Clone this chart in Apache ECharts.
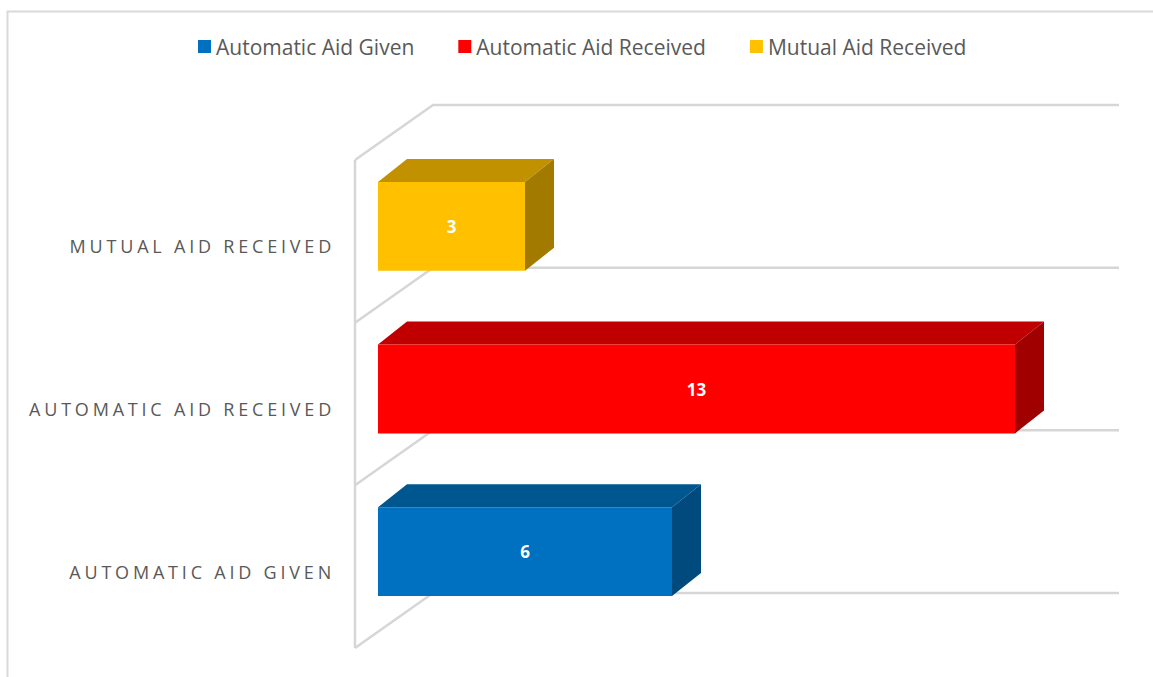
<!DOCTYPE html>
<html>
<head>
<meta charset="utf-8">
<script src="https://cdn.jsdelivr.net/npm/echarts@6/dist/echarts.min.js"></script>
<style>
  html, body { margin: 0; padding: 0; background: #ffffff; }
  #chart { width: 1153px; height: 677px; }
  #chart text[text-anchor="end"] { letter-spacing: 3.8px; }
</style>
</head>
<body>
<div id="chart"></div>
<script>
// ---- data ----
const categories = ['Automatic Aid Given', 'Automatic Aid Received', 'Mutual Aid Received'];
const values = [6, 13, 3];
const valueMin = 0;
const valueMax = 14;

// ---- styles ----
const frontColors = ['#0070C0', '#FF0000', '#FFC000'];
const topColors = ['#00568F', '#C00000', '#C29100'];
const sideColors = ['#004A7D', '#A00000', '#A27A00'];
const wallColor = '#d6d6d6';

// depth offsets in pixels (3D look)
const WALL_BACK = [78, -55];
const BAR_FRONT = [23, -15];
const BAR_DEPTH = [29, -23];
const BAR_RATIO = 0.546;

const chart = echarts.init(document.getElementById('chart'), null, { renderer: 'svg' });

function wallsRender(params, api) {
  const n = categories.length;
  const band = api.size([0, 1])[1];
  const children = [];
  const x0 = api.coord([valueMin, 0])[0];
  const xEnd = api.coord([valueMax, 0])[0];
  const bounds = [];
  for (let i = 0; i < n; i++) {
    const cy = api.coord([valueMin, i])[1];
    bounds.push(cy + band / 2);
  }
  bounds.push(api.coord([valueMin, n - 1])[1] - band / 2);
  const ls = { stroke: wallColor, lineWidth: 2.5, fill: null };
  const ys = bounds.slice().sort((a, b) => a - b);
  children.push({ type: 'line', shape: { x1: x0, y1: ys[0], x2: x0, y2: ys[ys.length - 1] }, style: ls });
  bounds.forEach(function (by) {
    const bx = x0 + WALL_BACK[0], byb = by + WALL_BACK[1];
    children.push({ type: 'polyline', shape: { points: [[x0, by], [bx, byb], [xEnd + WALL_BACK[0], byb]] }, style: ls });
  });
  return { type: 'group', children: children, silent: true };
}

function barRender(idx) {
  return function (params, api) {
    const v = api.value(0), c = api.value(1);
    const p0 = api.coord([valueMin, c]);
    const p1 = api.coord([v, c]);
    const band = api.size([0, 1])[1];
    const h = band * BAR_RATIO;
    const fx0 = p0[0] + BAR_FRONT[0], fx1 = p1[0] + BAR_FRONT[0];
    const cy = p0[1] + BAR_FRONT[1];
    const top = cy - h / 2, bot = cy + h / 2;
    const dx = BAR_DEPTH[0], dy = BAR_DEPTH[1];
    return {
      type: 'group',
      children: [
        { type: 'polygon', shape: { points: [[fx0, top], [fx1, top], [fx1 + dx, top + dy], [fx0 + dx, top + dy]] },
          style: { fill: topColors[idx] } },
        { type: 'polygon', shape: { points: [[fx1, top], [fx1 + dx, top + dy], [fx1 + dx, bot + dy], [fx1, bot]] },
          style: { fill: sideColors[idx] } },
        { type: 'rect', shape: { x: fx0, y: top, width: fx1 - fx0, height: bot - top },
          style: { fill: frontColors[idx] } },
        { type: 'text', x: (fx0 + fx1) / 2, y: cy,
          style: { text: String(v), fill: '#ffffff', fontFamily: 'Open Sans', fontWeight: 'bold', fontSize: 17,
                   align: 'center', verticalAlign: 'middle' } }
      ]
    };
  };
}

const series = [{
  type: 'custom',
  name: 'walls',
  renderItem: wallsRender,
  data: [[0, 0]],
  z: 1,
  silent: true
}];
categories.forEach(function (name, i) {
  series.push({
    type: 'custom',
    name: name,
    renderItem: barRender(i),
    itemStyle: { color: frontColors[i] },
    data: [[values[i], i]],
    encode: { x: 0, y: 1 },
    z: 2
  });
});

chart.setOption({
  backgroundColor: '#ffffff',
  animation: false,
  graphic: [{
    type: 'rect', left: 5, top: 9, silent: true, z: 0,
    shape: { width: 1200, height: 720 },
    style: { fill: null, stroke: '#d9d9d9', lineWidth: 2 }
  }],
  legend: {
    data: categories,
    top: 31,
    left: 193,
    icon: 'rect',
    itemWidth: 13,
    itemHeight: 13,
    itemGap: 44,
    textStyle: { color: '#595959', fontFamily: 'Open Sans', fontSize: 21 }
  },
  grid: { left: 355, right: 112, top: 160, bottom: 29 },
  xAxis: {
    type: 'value', min: valueMin, max: valueMax, interval: 1,
    show: false
  },
  yAxis: {
    type: 'category',
    data: categories,
    axisLine: { show: false },
    axisTick: { show: false },
    splitLine: { show: false },
    axisLabel: {
      margin: 20,
      formatter: function (v) { return '{t|' + v.toUpperCase() + '}'; },
      rich: {
        t: { color: '#595959', fontFamily: 'Open Sans', fontSize: 18, padding: [10, 0, 0, 0] }
      }
    }
  },
  series: series
});
</script>
</body>
</html>
